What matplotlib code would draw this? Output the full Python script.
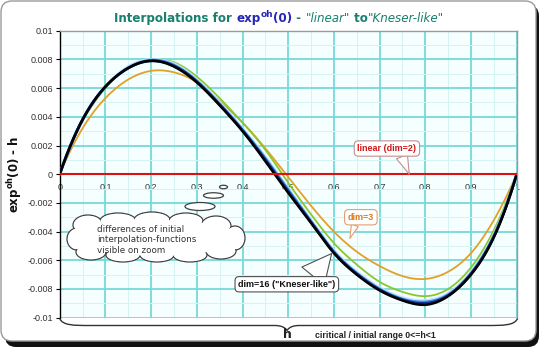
import numpy as np
import matplotlib
matplotlib.use("Agg")
import matplotlib.pyplot as plt
from matplotlib.patches import FancyBboxPatch, Ellipse, PathPatch
from matplotlib.path import Path
from matplotlib.ticker import MultipleLocator

# h in the critical range, values of exp^oh(0) - h per interpolation
h = [0, 0.05, 0.1, 0.15, 0.2, 0.25, 0.3, 0.35, 0.4, 0.45, 0.5,
     0.55, 0.6, 0.65, 0.7, 0.75, 0.8, 0.85, 0.9, 0.95, 1]
dim2 = [0] * 21
dim3 = [0, .0032, .0053, .0066, .0072, .0071, .0064, .0051, .0036, .0018, -.0002,
        -.0022, -.0040, -.0054, -.0064, -.0071, -.0073, -.0068, -.0055, -.0032, 0]
dim4 = [0, .0037, .0060, .0075, .0080, .0078, .0068, .0053, .0036, .0017, -.0006,
        -.0028, -.0048, -.0063, -.0075, -.0082, -.0085, -.0080, -.0065, -.0039, 0]
dim6 = [0, .0038, .0061, .0075, .0080, .0077, .0066, .0050, .0032, .0012, -.0010,
        -.0032, -.0053, -.0068, -.0079, -.0086, -.0088, -.0083, -.0068, -.0042, 0]
dim9 = [0, .0038, .0061, .0074, .00795, .0076, .0065, .0049, .0031, .0011, -.0011,
        -.0033, -.0054, -.0069, -.0080, -.0087, -.0089, -.0084, -.0069, -.0043, 0]
dim12 = [0, .0038, .0061, .0074, .0079, .00755, .00645, .00485, .00305, .0010, -.0012,
         -.00335, -.00545, -.00695, -.00805, -.00875, -.0090, -.00845, -.00695, -.00435, 0]
dim16 = [0, .0038, .0061, .0074, .0079, .0075, .0064, .0048, .0030, .0009, -.0013,
         -.0034, -.0055, -.0070, -.0081, -.0088, -.0091, -.0085, -.0070, -.0044, 0]

xticks = [0, 0.1, 0.2, 0.3, 0.4, 0.5, 0.6, 0.7, 0.8, 0.9, 1]
xtick_labels = ["0", "0.1", "0.2", "0.3", "0.4", "0.5", "0.6", "0.7", "0.8", "0.9", "1"]
yticks = [0.01, 0.008, 0.006, 0.004, 0.002, 0, -0.002, -0.004, -0.006, -0.008, -0.01]
ytick_labels = ["0.01", "0.008", "0.006", "0.004", "0.002", "0",
                "-0.002", "-0.004", "-0.006", "-0.008", "-0.01"]


def smooth(x, y, n=400):
    # cubic spline through the points, quadratic run-out at both ends
    x = np.asarray(x, float)
    y = np.asarray(y, float)
    k = len(x)
    d = np.diff(x)
    A = np.zeros((k, k))
    b = np.zeros(k)
    A[0, 0], A[0, 1] = 1, -1
    A[-1, -1], A[-1, -2] = 1, -1
    for i in range(1, k - 1):
        A[i, i - 1] = d[i - 1]
        A[i, i] = 2 * (d[i - 1] + d[i])
        A[i, i + 1] = d[i]
        b[i] = 6 * ((y[i + 1] - y[i]) / d[i] - (y[i] - y[i - 1]) / d[i - 1])
    M = np.linalg.solve(A, b)
    xs = np.linspace(x[0], x[-1], n)
    i = np.clip(np.searchsorted(x, xs, side="right") - 1, 0, k - 2)
    hi = d[i]
    a = x[i + 1] - xs
    c = xs - x[i]
    ys = (M[i] * a ** 3 / (6 * hi) + M[i + 1] * c ** 3 / (6 * hi)
          + (y[i] / hi - M[i] * hi / 6) * a + (y[i + 1] / hi - M[i + 1] * hi / 6) * c)
    return xs, ys


W, H = 540, 348
fig = plt.figure(figsize=(W / 100, H / 100), dpi=100)
tick_font = "Liberation Sans"

# frame with a drop shadow
bg = fig.add_axes([0, 0, 1, 1], zorder=-1)
bg.set_xlim(0, W)
bg.set_ylim(H, 0)
bg.axis("off")
bg.add_patch(FancyBboxPatch((5, 5), 534, 342, boxstyle="round,pad=0,rounding_size=11",
                            fc="#111111", ec="none"))
bg.add_patch(FancyBboxPatch((1, 1), 535, 340, boxstyle="round,pad=0,rounding_size=11",
                            fc="white", ec="#9a9a9a", lw=1))

ax = fig.add_axes([59.7 / W, 1 - 317.7 / H, 457 / W, 287 / H], zorder=1)
ax.set_facecolor("#f5ffff")
ax.set_xlim(0, 1)
ax.set_ylim(-0.01, 0.01)
ax.set_axisbelow(True)
ax.xaxis.set_minor_locator(MultipleLocator(0.05))
ax.yaxis.set_minor_locator(MultipleLocator(0.001))
ax.grid(which="minor", color="#d6f3f3", lw=0.7)
ax.grid(which="major", color="#76d9d9", lw=1.3)

ax.spines["left"].set_color("black")
ax.spines["left"].set_linewidth(1)
for s in ("top", "right"):
    ax.spines[s].set_color("#9a9a9a")
    ax.spines[s].set_linewidth(1)
ax.spines["bottom"].set_position(("data", 0))
ax.spines["bottom"].set_visible(False)

ax.set_xticks(xticks, xtick_labels, fontsize=6.5, family=tick_font, color="#333333")
ax.set_yticks(yticks, ytick_labels, fontsize=6.5, family=tick_font, color="#333333")
ax.tick_params(axis="x", which="both", length=0, pad=6)
ax.tick_params(axis="y", which="major", length=3, width=0.8, pad=2, direction="out")
ax.tick_params(axis="y", which="minor", length=0)

series = [
    (dim3, "#e3a027", 1.3),
    (dim4, "#8cc62c", 1.3),
    (dim6, "#bfe4ff", 2.0),
    (dim9, "#3f8fe0", 2.0),
    (dim12, "#14308e", 2.0),
    (dim16, "#000000", 1.8),
]
for vals, col, lw in series:
    xs, ys = smooth(h, vals)
    ax.plot(xs, ys, color=col, lw=lw, solid_capstyle="round", zorder=3)
ax.plot(h, dim2, color="#dd1111", lw=1.5, zorder=4)

# callouts
box = dict(boxstyle="round,pad=0.35,rounding_size=0.45", fc="white", lw=0.8)
ax.annotate("linear (dim=2)", xy=(0.765, 0), xytext=(0.716, 0.00179),
            ha="center", va="center", fontsize=6.5, fontweight="bold",
            family=tick_font, color="#d01818", zorder=6,
            bbox=dict(box, ec="#c09090"),
            arrowprops=dict(arrowstyle="wedge,tail_width=1.3,shrink_factor=0.5", fc="white",
                            ec="#c09090", lw=0.8, relpos=(0.73, 0), shrinkA=0, shrinkB=0))
ax.annotate("dim=3", xy=(0.635, -0.00448), xytext=(0.659, -0.0030),
            ha="center", va="center", fontsize=6.5, fontweight="bold",
            family=tick_font, color="#e07818", zorder=6,
            bbox=dict(box, ec="#e0a070"),
            arrowprops=dict(arrowstyle="wedge,tail_width=0.8,shrink_factor=0.5", fc="white",
                            ec="#e0a070", lw=0.8, relpos=(0.32, 0), shrinkA=0, shrinkB=0))
ax.annotate('dim=16 ("Kneser-like")', xy=(0.595, -0.00553), xytext=(0.497, -0.00767),
            ha="center", va="center", fontsize=6.5, fontweight="bold",
            family=tick_font, color="#111111", zorder=6,
            bbox=dict(box, ec="#505050"),
            arrowprops=dict(arrowstyle="wedge,tail_width=3.2,shrink_factor=0.5", fc="white",
                            ec="#505050", lw=0.8, relpos=(0.74, 1), shrinkA=0, shrinkB=0))

# overlay in pixel units for the cloud, the brace and the loose labels
ov = fig.add_axes([0, 0, 1, 1], zorder=5)
ov.set_xlim(0, W)
ov.set_ylim(H, 0)
ov.axis("off")

bumps = [(88, 225, 30, 20), (118, 221, 36, 16), (152, 220, 36, 16), (186, 221, 34, 16),
         (216, 226, 30, 20), (235, 238, 20, 24), (77, 239, 20, 22),
         (91, 252, 30, 16), (123, 255, 34, 14), (157, 255, 34, 14), (190, 255, 34, 14),
         (221, 251, 30, 16)]
for cx, cy, w, hh in bumps:
    ov.add_patch(Ellipse((cx, cy), w, hh, fc="white", ec="#404040", lw=0.9, zorder=1))
for cx, cy, w, hh in bumps:
    ov.add_patch(Ellipse((cx, cy), w - 1.8, hh - 1.8, fc="white", ec="none", zorder=2))
ov.add_patch(Ellipse((157, 238), 164, 36, fc="white", ec="none", zorder=2))
for cx, cy, w, hh in [(200, 206.5, 30, 8), (213.5, 195.5, 20, 5.5), (223.5, 187, 8, 3.5)]:
    ov.add_patch(Ellipse((cx, cy), w, hh, fc="white", ec="#404040", lw=0.9, zorder=2))
ov.text(97, 240, "differences of initial\ninterpolation-functions\nvisible on zoom",
        ha="left", va="center", fontsize=6.3, family="DejaVu Sans", color="#333333",
        linespacing=1.25, zorder=3)

# brace under the critical range
L, R, C, y0, y1, yp = 59.7, 517.5, 287.0, 318.5, 325.5, 330.5
verts = [(L, y0), (L + 3, y1), (L + 14, y1), (L + 30, y1),
         (C - 12, y1), (C - 3, y1), (C, yp),
         (C + 3, y1), (C + 12, y1), (R - 30, y1),
         (R - 14, y1), (R - 3, y1), (R, y0)]
codes = [Path.MOVETO, Path.CURVE4, Path.CURVE4, Path.LINETO,
         Path.LINETO, Path.CURVE3, Path.CURVE3,
         Path.CURVE3, Path.CURVE3, Path.LINETO,
         Path.CURVE4, Path.CURVE4, Path.CURVE4]
ov.add_patch(PathPatch(Path(verts, codes), fc="none", ec="#333333", lw=1))
ov.text(C, 334, "h", ha="center", va="center", fontsize=9, fontweight="bold", color="#222222")
ov.text(315, 336, "ciritical / initial range 0<=h<1", ha="left", va="center",
        fontsize=6.3, fontweight="bold", family=tick_font, color="#222222")

ov.text(15, 174, r"exp$^{\mathbf{oh}}$(0) - h", rotation=90, ha="center", va="center",
        fontsize=8.5, fontweight="bold", family="DejaVu Sans", color="#111111")

# multi-coloured title, laid out piece by piece
teal, blue = "#17806e", "#2626b4"
pieces = [
    ("Interpolations for ", dict(color=teal, fontweight="bold"), 0),
    ("exp", dict(color=blue, fontweight="bold"), 0),
    ("oh", dict(color=blue, fontweight="bold", fontsize=6.5), 5),
    ("(0)", dict(color=blue, fontweight="bold"), 0),
    (" - ", dict(color=teal, fontweight="bold"), 0),
    ('"linear"', dict(color=teal, style="italic"), 0),
    (" to", dict(color=teal, fontweight="bold"), 0),
    ('"Kneser-like"', dict(color=teal, style="italic"), 0),
]
renderer = fig.canvas.get_renderer()
base_y = H - 22
parts = []
x = 0
for s, kw, dy in pieces:
    kw = dict(kw)
    kw.setdefault("fontsize", 8.6)
    t = fig.text(x, base_y + dy, s, transform=None, ha="left", va="baseline",
                 family="DejaVu Sans", **kw)
    w = t.get_window_extent(renderer).width
    parts.append((t, x))
    x += w
shift = 279 - x / 2
for t, x0 in parts:
    t.set_x(x0 + shift)

fig.savefig("out.png", dpi=100)
